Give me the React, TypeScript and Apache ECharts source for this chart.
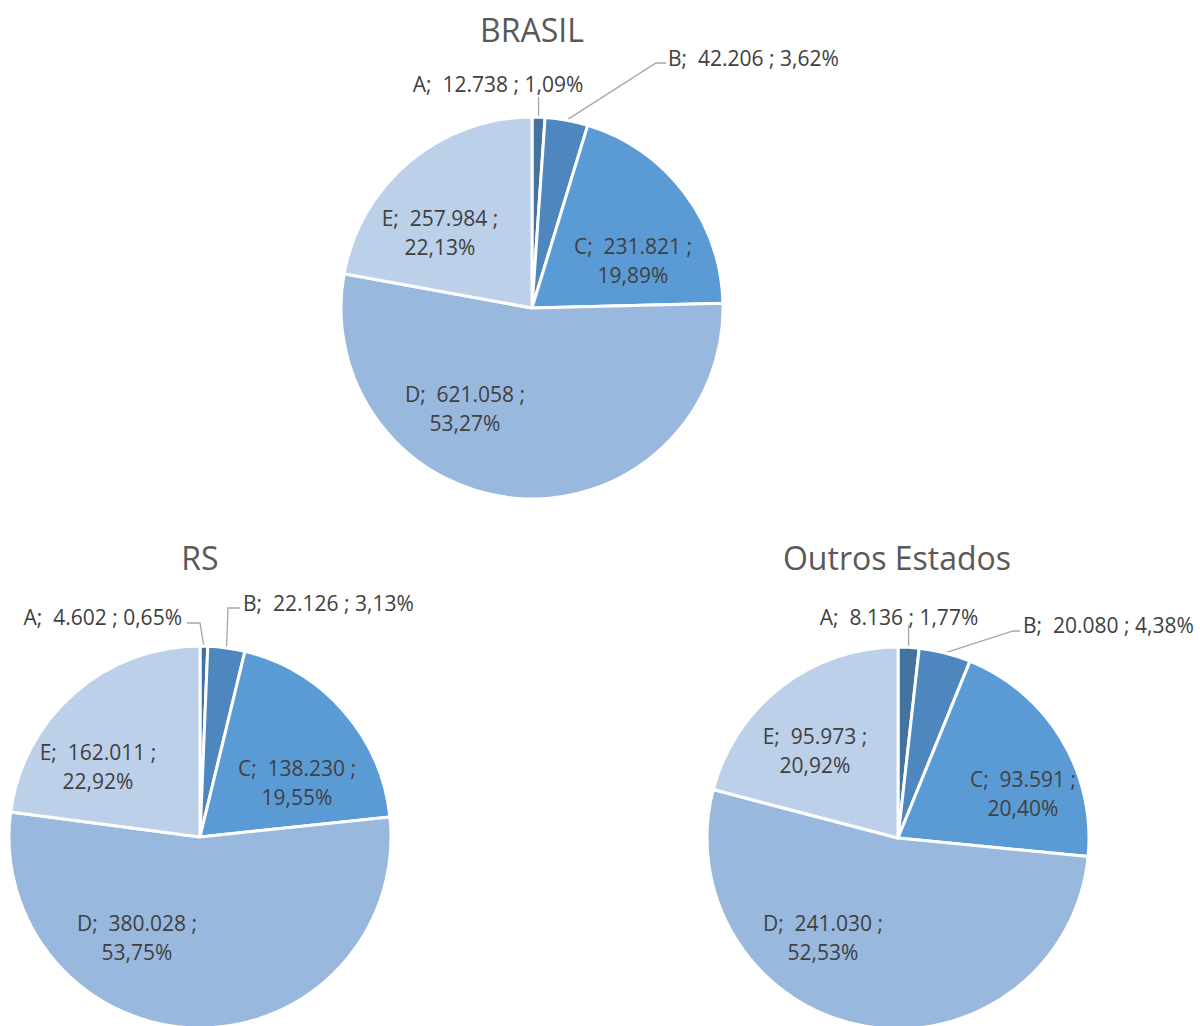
import React, { useEffect, useRef } from "react";
import * as echarts from "echarts";

const categories = ["A", "B", "C", "D", "E"];
const chartTitles = ["BRASIL", "RS", "Outros Estados"];
const brasilValues = [12738, 42206, 231821, 621058, 257984];
const rsValues = [4602, 22126, 138230, 380028, 162011];
const outrosValues = [8136, 20080, 93591, 241030, 95973];

const sliceColors = ["#44739F", "#4E87BE", "#5B9BD5", "#98B8DE", "#BDD0EA"];
const FONT = "Open Sans";
const RADIUS = 191;

type OutsideCfg = { line: number[][]; label: number[]; align: string };
type PieLayout = {
  center: number[];
  title: number[];
  inside: Record<number, number[]>;
  outside: Record<number, OutsideCfg>;
};

const LAYOUTS: PieLayout[] = [
  {
    center: [532, 308],
    title: [532, 29],
    inside: { 2: [101, -48], 3: [-67, 100], 4: [-92, -76] },
    outside: {
      0: { line: [[6.5, -211]], label: [-34, -224], align: "center" },
      1: { line: [[124, -245], [134, -245]], label: [136, -250], align: "left" },
    },
  },
  {
    center: [200, 837],
    title: [200, 557],
    inside: { 2: [97, -55], 3: [-63, 100], 4: [-102, -71] },
    outside: {
      0: { line: [[0, -214], [-13, -214]], label: [-18, -220], align: "right" },
      1: { line: [[28, -229], [40, -229]], label: [43, -234], align: "left" },
    },
  },
  {
    center: [898, 838],
    title: [897, 557],
    inside: { 2: [125, -45], 3: [-75, 99], 4: [-83, -88] },
    outside: {
      0: { line: [[10.5, -213]], label: [1, -221], align: "center" },
      1: { line: [[115, -207], [122, -207]], label: [125, -213], align: "left" },
    },
  },
];

function fmtInt(v: number): string {
  return String(v).replace(/\B(?=(\d{3})+(?!\d))/g, ".");
}

function buildSeries(values: number[], layout: PieLayout, idx: number) {
  const sum = values.reduce((a, b) => a + b, 0);
  const cx = layout.center[0];
  const cy = layout.center[1];
  const edgePoint = (i: number) => {
    let cum = 0;
    for (let k = 0; k < i; k++) cum += values[k];
    const f = (cum + values[i] / 2) / sum;
    const th = f * Math.PI * 2;
    return [cx + RADIUS * Math.sin(th), cy - RADIUS * Math.cos(th)];
  };
  const data = values.map((v, i) => {
    const outside = layout.outside[i] != null;
    return {
      name: categories[i],
      value: v,
      itemStyle: { color: sliceColors[i] },
      label: { position: outside ? "outside" : "inside" },
      labelLine: { show: outside },
    };
  });
  return {
    type: "pie",
    id: "pie" + idx,
    center: layout.center,
    radius: [0, RADIUS],
    startAngle: 90,
    clockwise: true,
    avoidLabelOverlap: false,
    silent: true,
    itemStyle: { borderColor: "#ffffff", borderWidth: 3 },
    label: {
      show: true,
      fontFamily: FONT,
      fontSize: 21,
      lineHeight: 29,
      color: "#404040",
      formatter: (p: any) => {
        const pct = ((p.value / sum) * 100).toFixed(2).replace(".", ",") + "%";
        const first = `${p.name};  ${fmtInt(p.value)} ;`;
        return layout.outside[p.dataIndex] != null ? `${first} ${pct}` : `${first}\n${pct}`;
      },
    },
    labelLine: {
      show: true,
      lineStyle: { color: "#A6A6A6", width: 1.3 },
      length: 10,
      length2: 10,
    },
    labelLayout: (params: any) => {
      const i = params.dataIndex;
      const ins = layout.inside[i];
      if (ins) {
        return { x: cx + ins[0], y: cy + ins[1], align: "center", verticalAlign: "middle" };
      }
      const o = layout.outside[i];
      if (o) {
        const e = edgePoint(i);
        const pts = [e, ...o.line.map((q) => [cx + q[0], cy + q[1]])];
        return {
          x: cx + o.label[0],
          y: cy + o.label[1],
          align: o.align,
          verticalAlign: "middle",
          labelLinePoints: pts,
        };
      }
      return {};
    },
    data,
  };
}

export default function App() {
  const ref = useRef<HTMLDivElement>(null);
  useEffect(() => {
    if (!ref.current) return;
    const chart = echarts.init(ref.current, undefined, { renderer: "svg" });
    const allValues = [brasilValues, rsValues, outrosValues];
    chart.setOption({
      animation: false,
      backgroundColor: "#ffffff",
      graphic: LAYOUTS.map((l, i) => ({
        type: "text",
        x: l.title[0],
        y: l.title[1],
        silent: true,
        style: {
          text: chartTitles[i],
          align: "center",
          verticalAlign: "middle",
          fontFamily: FONT,
          fontSize: 32,
          fill: "#595959",
        },
      })),
      series: allValues.map((v, i) => buildSeries(v, LAYOUTS[i], i)),
    });
    return () => chart.dispose();
  }, []);
  return (
    <div
      ref={ref}
      style={{ position: "absolute", left: 0, top: 0, width: 1200, height: 1026 }}
    />
  );
}
